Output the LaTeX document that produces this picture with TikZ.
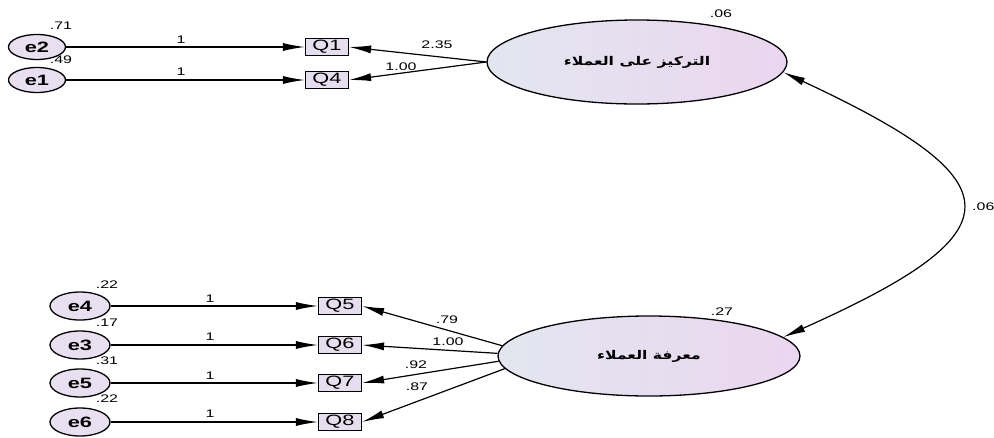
\documentclass[tikz,border=0pt]{standalone}
\usepackage{fontspec}
\setmainfont{Liberation Sans}[FakeStretch=1.45]
\newfontfamily\arabicfont[Script=Arabic,FakeStretch=1.3]{DejaVu Sans}
\TeXXeTstate=1
\usetikzlibrary{shapes.geometric,arrows.meta}
\definecolor{latL}{HTML}{E2E6EF}
\definecolor{latR}{HTML}{EBD6EF}
\definecolor{errfill}{HTML}{E8E0F0}
\definecolor{boxfill}{HTML}{E6DEEE}
\begin{document}
\begin{tikzpicture}[x=1pt,y=-1pt,
  latent/.style={ellipse, draw, line width=1.3pt, left color=latL, right color=latR, minimum width=300pt, minimum height=84pt, inner sep=0pt, font=\arabicfont\bfseries\fontsize{12}{12}\selectfont},
  errtop/.style={ellipse, draw, line width=1.3pt, fill=errfill, minimum width=57pt, minimum height=25pt, inner sep=0pt, font=\bfseries\fontsize{15}{15}\selectfont},
  errbot/.style={errtop, minimum width=60pt, minimum height=28pt},
  obs/.style={rectangle, draw, line width=1.2pt, fill=boxfill, minimum width=43pt, minimum height=17pt, inner sep=0pt, font=\fontsize{15}{15}\selectfont},
  num/.style={inner sep=0pt, font=\fontsize{11}{11}\selectfont},
  tip/.tip={Latex[length=22pt,width=8pt]},
  arr/.style={line width=1.2pt, -tip},
  darr/.style={line width=1.2pt, tip-tip}
]
\useasboundingbox (0,0) rectangle (994,437);

% latent variables
\node[latent] (top) at (637,62) {\beginR التركيز على العملاء\endR};
\node[latent, minimum width=302pt, minimum height=80pt] (bot) at (649,356) {\beginR معرفة العملاء\endR};

% error terms top
\node[errtop] (e2) at (37,47) {e2};
\node[errtop] (e1) at (37,80) {e1};
% observed top
\node[obs] (q1) at (327,47) {Q1};
\node[obs] (q4) at (327,80) {Q4};

% error terms bottom
\node[errbot] (e4) at (80,306) {e4};
\node[errbot] (e3) at (80,345) {e3};
\node[errbot] (e5) at (80,383) {e5};
\node[errbot] (e6) at (80,422) {e6};
% observed bottom
\node[obs] (q5) at (340,306) {Q5};
\node[obs] (q6) at (340,345) {Q6};
\node[obs] (q7) at (340,383) {Q7};
\node[obs] (q8) at (340,422) {Q8};

% error paths
\draw[arr] (e2) -- (q1);
\draw[arr] (e1) -- (q4);
\draw[arr] (e4) -- (q5);
\draw[arr] (e3) -- (q6);
\draw[arr] (e5) -- (q7);
\draw[arr] (e6) -- (q8);

% loadings
\draw[arr] (top.west) -- (q1.east);
\draw[arr] (top.west) -- (q4.east);
\draw[arr] (bot.176) -- (q5.east);
\draw[arr] (bot.179) -- (q6.east);
\draw[arr] (bot.182) -- (q7.east);
\draw[arr] (bot.185) -- (q8.east);

% covariance
\draw[darr] (top.-4) .. controls (1019,182) and (1019,232) .. (bot.8);

% labels
\node[num] (v71) at (61,26) {.71};
\node[num] (v49) at (61,60) {.49};
\node[num] (w1) at (181,40) {1};
\node[num] (w2) at (181,72) {1};
\node[num] (l235) at (437,45) {2.35};
\node[num] (l100a) at (401,67) {1.00};
\node[num] (vtop) at (721,14) {.06};
\node[num, anchor=west] (cov) at (972,207) {.06};

\node[num] (v22a) at (107,285) {.22};
\node[num] (v17) at (107,323) {.17};
\node[num] (v31) at (107,361) {.31};
\node[num] (v22b) at (107,399) {.22};
\node[num] (w3) at (210,299) {1};
\node[num] (w4) at (210,337) {1};
\node[num] (w5) at (210,376) {1};
\node[num] (w6) at (210,414) {1};
\node[num] (l79) at (447,320) {.79};
\node[num] (l100b) at (448,342) {1.00};
\node[num] (l92) at (416,365) {.92};
\node[num] (l87) at (417,387) {.87};
\node[num] (vbot) at (722,312) {.27};
\end{tikzpicture}
\end{document}
